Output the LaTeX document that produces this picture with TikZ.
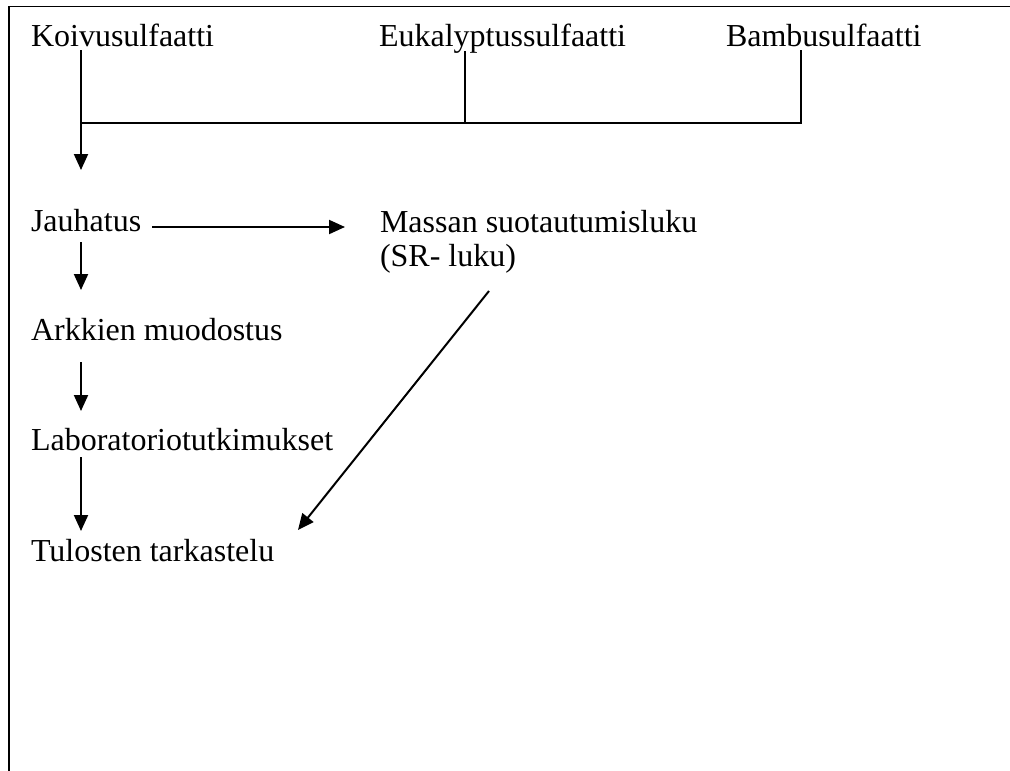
\documentclass[tikz,border=0pt]{standalone}
\usepackage{fontspec}
\setmainfont{Liberation Serif}
\usetikzlibrary{arrows.meta}
\begin{document}
\begin{tikzpicture}[x=1pt,y=-1pt,
  lbl/.style={inner sep=0pt,outer sep=0pt,anchor=base west,font=\fontsize{32}{34}\selectfont},
  conn/.style={line width=2pt},
  arr/.style={conn,-{Triangle[width=14pt,length=16pt]}},
  frame/.style={line width=1.6pt}]
\useasboundingbox (0,0) rectangle (1010,771);
% frame
\draw[frame] (9,771) -- (9,6.5) -- (1010,6.5);
% labels
\node[lbl] (koivu) at (31,46) {Koivusulfaatti};
\node[lbl] (euka) at (379,46) {Eukalyptussulfaatti};
\node[lbl] (bambu) at (726,46) {Bambusulfaatti};
\node[lbl] (jauh) at (31,231) {Jauhatus};
\node[lbl,anchor=north west,align=left] (massa) at (380,210) {Massan suotautumisluku\\(SR- luku)};
\node[lbl] (arkki) at (31,340) {Arkkien muodostus};
\node[lbl] (labra) at (31,450) {Laboratoriotutkimukset};
\node[lbl] (tulos) at (31,561) {Tulosten tarkastelu};
% connector coordinates
\coordinate (kT) at (81,50);
\coordinate (kJ) at (81,123);
\coordinate (kA) at (81,170);
\coordinate (eT) at (465,51);
\coordinate (eJ) at (465,123);
\coordinate (bT) at (801,50);
\coordinate (bJ) at (801,123);
\coordinate (jR) at (152,227);
\coordinate (mL) at (345,227);
\coordinate (jB) at (81,242);
\coordinate (aT) at (81,290);
\coordinate (aB) at (81,362);
\coordinate (lT) at (81,411);
\coordinate (lB) at (81,457);
\coordinate (tT) at (81,531);
\coordinate (mB) at (489,291);
\coordinate (tR) at (298,530);
% connectors
\draw[arr] (kT) -- (kA);
\draw[conn] (kJ) -- (bJ) -- (bT);
\draw[conn] (eT) -- (eJ);
\draw[arr] (jR) -- (mL);
\draw[arr] (jB) -- (aT);
\draw[arr] (aB) -- (lT);
\draw[arr] (lB) -- (tT);
\draw[arr] (mB) -- (tR);
\end{tikzpicture}
\end{document}
